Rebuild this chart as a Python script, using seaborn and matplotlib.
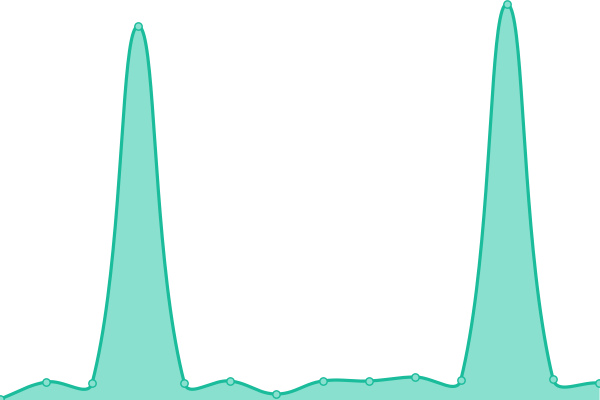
import numpy as np
import pandas as pd
import seaborn as sns
from matplotlib import pyplot as plt

# values (0 = bottom, 400 = top)
steps = list(range(14))
values = [1, 18, 17, 374, 17, 19, 6, 19, 19, 23, 20, 396, 21, 17]

LINE = "#1abc9c"
FILL = "#8ae0cf"


def smooth(xs, ys, tension=0.4, n=40):
    # chart.js-like bezier smoothing between the points
    xs = np.asarray(xs, float)
    ys = np.asarray(ys, float)
    px = xs * 46.0  # pixel-ish spacing so distances match the picture
    m = len(xs)
    cp_in, cp_out = [], []
    for i in range(m):
        p0 = (px[max(i - 1, 0)], ys[max(i - 1, 0)])
        p1 = (px[i], ys[i])
        p2 = (px[min(i + 1, m - 1)], ys[min(i + 1, m - 1)])
        d01 = np.hypot(p1[0] - p0[0], p1[1] - p0[1])
        d12 = np.hypot(p2[0] - p1[0], p2[1] - p1[1])
        tot = d01 + d12
        s01 = d01 / tot if tot else 0
        s12 = d12 / tot if tot else 0
        fa, fb = tension * s01, tension * s12
        cp_in.append((p1[0] - fa * (p2[0] - p0[0]), p1[1] - fa * (p2[1] - p0[1])))
        cp_out.append((p1[0] + fb * (p2[0] - p0[0]), p1[1] + fb * (p2[1] - p0[1])))
    out_x, out_y = [], []
    t = np.linspace(0, 1, n, endpoint=False)
    for i in range(m - 1):
        a = (px[i], ys[i])
        b = cp_out[i]
        c = cp_in[i + 1]
        d = (px[i + 1], ys[i + 1])
        bx = (1 - t) ** 3 * a[0] + 3 * (1 - t) ** 2 * t * b[0] + 3 * (1 - t) * t ** 2 * c[0] + t ** 3 * d[0]
        by = (1 - t) ** 3 * a[1] + 3 * (1 - t) ** 2 * t * b[1] + 3 * (1 - t) * t ** 2 * c[1] + t ** 3 * d[1]
        out_x.extend(bx / 46.0)
        out_y.extend(by)
    out_x.append(xs[-1])
    out_y.append(ys[-1])
    return np.array(out_x), np.array(out_y)


df = pd.DataFrame({"step": steps, "value": values})
cx, cy = smooth(df["step"], df["value"])
curve = pd.DataFrame({"step": cx, "value": cy})

sns.set_style("white")
fig = plt.figure(figsize=(6, 4), dpi=100)
ax = fig.add_axes([0, 0, 1, 1])

ax.fill_between(curve["step"], curve["value"], 0, color=FILL, linewidth=0, zorder=1)
sns.lineplot(data=curve, x="step", y="value", ax=ax, color=LINE, linewidth=2.3,
             sort=False, zorder=2)
sns.scatterplot(data=df, x="step", y="value", ax=ax, s=28, color=FILL,
                edgecolor=LINE, linewidth=1.0, zorder=3, clip_on=False)

ax.set_xlim(0, 13.02)
ax.set_ylim(0, 400)
ax.axis("off")

fig.savefig("out.png", dpi=100)
